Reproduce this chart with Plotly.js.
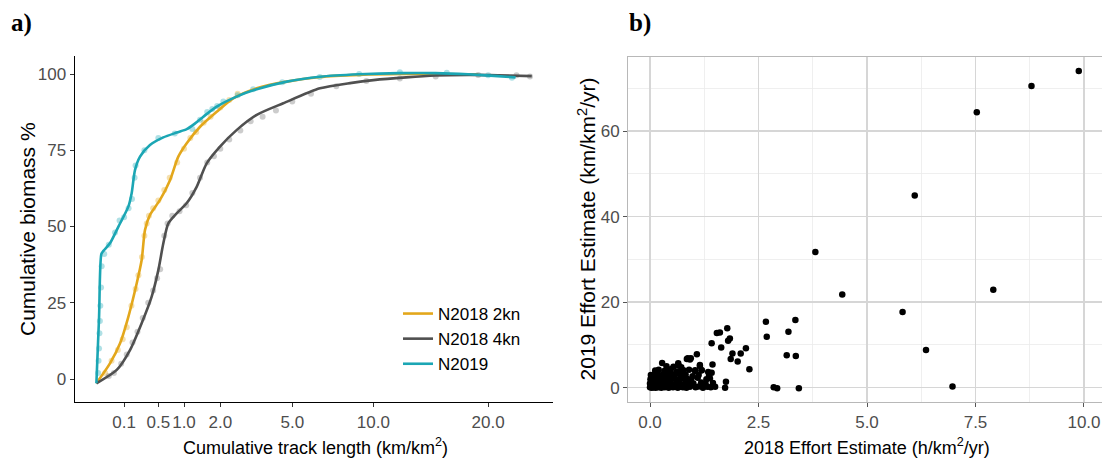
<!DOCTYPE html>
<html>
<head>
<meta charset="utf-8">
<script src="https://cdn.plot.ly/plotly-3.0.1.min.js"></script>
<style>
  html, body { margin: 0; padding: 0; background: #fff; }
  #chart { width: 1102px; height: 466px; }
</style>
</head>
<body>
<div id="chart"></div>
<script>
// ---------- Panel a) cumulative biomass vs cumulative track length ----------
const seriesNames = ['N2018 2kn', 'N2018 4kn', 'N2019'];

const orangeLineX = [0, 0.024, 0.073, 0.133, 0.212, 0.267, 0.308, 0.374, 0.527, 0.706, 0.874, 1.063, 1.4, 1.886, 2.44, 3.35, 4.72, 6.51, 9.0, 12.0, 15.0, 19.0];
const orangeLineY = [-1.4, 5.1, 11.7, 20.4, 31.4, 39, 48.9, 53.8, 58.7, 65.2, 72.9, 77.3, 82.7, 87.6, 92, 95.3, 97.5, 99.0, 99.7, 100.0, 100.0, 99.8];

const grayLineX = [0, 0.054, 0.147, 0.267, 0.398, 0.5, 0.584, 0.674, 0.84, 1.06, 1.31, 1.585, 1.99, 2.56, 3.35, 4.55, 6.51, 8.5, 10.0, 12.5, 15.0, 18.0, 21.0, 24.7];
const grayLineY = [-1.4, 3.0, 9.5, 18.3, 27, 35.7, 44.5, 51, 54.3, 57.6, 63, 70.7, 76.2, 81.6, 86.6, 90.4, 95.3, 97.1, 98.0, 98.9, 99.5, 99.7, 99.6, 99.3];

const tealLineX = [0, 0.0009, 0.00325, 0.0064, 0.024, 0.0625, 0.133, 0.162, 0.194, 0.248, 0.374, 0.583, 0.84, 1.063, 1.27, 1.49, 1.886, 2.56, 3.35, 4.72, 6.51, 9.0, 12.0, 15.0, 18.0, 21.0, 22.9];
const tealLineY = [-1.4, 20, 41, 42, 44.5, 49.9, 56.5, 60.9, 68.5, 72.9, 76.7, 79.2, 80.8, 81.9, 83.8, 86, 89.3, 92.6, 95, 97.5, 99.1, 99.9, 100.3, 100.3, 99.9, 99.3, 98.9];

const orangePtsX = [0.01, 0.03, 0.06, 0.09, 0.12, 0.16, 0.2, 0.23, 0.27, 0.3, 0.33, 0.36, 0.42, 0.5, 0.6, 0.7, 0.85, 1.0, 1.15, 1.3, 1.5, 1.7, 2.0, 2.3, 2.6];
const orangePtsY = [2, 6, 9.5, 13, 17, 24, 29.5, 34, 40, 47, 51, 53.5, 56, 58.5, 62, 66, 71, 75.5, 79, 81, 84, 86, 89, 91.5, 93.5];

const grayPtsX = [0.02, 0.04, 0.08, 0.12, 0.17, 0.22, 0.28, 0.35, 0.42, 0.48, 0.53, 0.6, 0.66, 0.75, 0.9, 1.05, 1.2, 1.4, 1.6, 1.8, 2.0, 2.3, 2.7, 3.1, 3.6, 4.2, 5.0, 6.0, 7.5, 9.5, 12.0, 15.0, 19.0, 23.0, 24.5];
const grayPtsY = [1, 2, 5, 8, 12, 15.5, 20, 25, 29, 33, 36, 47, 51, 53.5, 55, 57, 61, 66, 71, 73, 75.5, 78.5, 81.5, 84.5, 86, 88, 91, 93.5, 96, 97.7, 98.5, 99.2, 99.7, 99.6, 99.2];

const tealPtsX = [0.0004, 0.0006, 0.0009, 0.0012, 0.0016, 0.002, 0.0028, 0.0036, 0.008, 0.02, 0.045, 0.07, 0.1, 0.135, 0.165, 0.19, 0.2, 0.3, 0.5, 0.8, 1.2, 1.4, 1.6, 1.75, 1.9, 2.1, 2.6, 3.2, 4.5, 6.5, 9.0, 12.0, 16.0, 20.0, 22.5];
const tealPtsY = [2, 6, 10, 15, 19, 24, 30, 37, 41, 44, 48, 52, 53, 56, 59, 66, 70, 75, 79, 80.5, 82, 85, 87.5, 88.5, 89.5, 91, 93, 95, 97.3, 99, 100, 100.6, 100.4, 99.6, 98.8];

const trackTicks = [0.1, 0.5, 1.0, 2.0, 5.0, 10.0, 20.0];
const trackTickText = ['0.1', '0.5', '1.0', '2.0', '5.0', '10.0', '20.0'];
const biomassTicks = [0, 25, 50, 75, 100];

// ---------- Panel b) effort estimates ----------
const effort2018 = [
  3.81, 4.43, 5.82, 6.10, 6.36, 6.97, 7.53, 7.91, 8.79, 9.88,
  2.67, 2.69, 3.35, 3.19, 3.15, 3.36, 2.85, 2.93, 3.43,
  2.29, 2.21, 2.09, 1.90, 2.02, 1.86, 1.78, 1.54, 1.61, 1.84, 1.80, 1.42, 1.64,
  1.75, 1.73, 1.08, 1.44, 1.34, 1.42, 1.15, 1.19, 1.04, 0.85, 0.92, 0.65, 0.28, 0.54, 0.77, 0.87, 0.94, 0.12,
  0.00, 0.02, 0.04, 0.06, 0.08, 0.10, 0.13, 0.16, 0.19, 0.22, 0.26, 0.30, 0.34, 0.38, 0.43, 0.48, 0.53, 0.58, 0.64, 0.70, 0.76, 0.84, 0.92, 1.05, 1.12, 1.22, 1.32, 1.40, 1.50,
  0.00, 0.03, 0.06, 0.09, 0.12, 0.15, 0.20, 0.25, 0.31, 0.36, 0.41, 0.47, 0.55, 0.62, 0.68, 0.80, 0.90, 1.00, 1.18, 1.28, 1.45,
  0.01, 0.05, 0.10, 0.14, 0.18, 0.24, 0.28, 0.35, 0.40, 0.46, 0.52, 0.60, 0.66, 0.75, 0.85, 0.95, 1.10, 1.30, 1.38,
  0.02, 0.08, 0.16, 0.22, 0.30, 0.37, 0.44, 0.50, 0.58, 0.70, 0.82, 0.98, 1.12, 1.36,
  0.12, 0.20, 0.33, 0.42, 0.48, 0.62, 0.75, 0.90, 1.04, 1.19,
  0.38, 0.66, 0.72, 1.15
];
const effort2019 = [
  31.7, 21.8, 17.7, 44.9, 8.8, 0.3, 64.4, 22.9, 70.5, 74.0,
  15.4, 11.9, 15.8, 13.1, 7.6, 7.4, 0.1, -0.1, -0.1,
  4.3, 9.2, 8.0, 8.0, 6.1, 6.7, 13.9, 12.8, 12.9, 11.5, 11.0, 10.4, 9.4,
  1.4, 0.0, 7.8, 5.4, 3.7, 3.5, 5.3, 4.1, 4.1, 6.7, 6.6, 5.7, 5.8, 4.9, 4.1, 6.9, 6.9, 3.4,
  0.1, 0.2, 0.0, 0.3, 0.1, 0.2, 0.0, 0.3, 0.1, 0.2, 0.0, 0.2, 0.1, 0.3, 0.0, 0.2, 0.1, 0.3, 0.0, 0.2, 0.1, 0.0, 0.2, 0.1, 0.3, 0.0, 0.2, 0.1, 0.2,
  1.0, 1.2, 0.9, 1.1, 1.3, 0.8, 1.0, 1.2, 0.9, 1.1, 1.3, 1.0, 0.8, 1.2, 1.1, 0.9, 1.3, 1.0, 1.2, 0.9, 1.1,
  2.0, 2.2, 1.9, 2.1, 2.3, 1.8, 2.0, 2.2, 1.9, 2.1, 2.3, 2.0, 1.8, 2.2, 2.1, 1.9, 2.3, 2.0, 2.2,
  3.0, 2.8, 3.2, 2.9, 3.1, 3.3, 2.8, 3.0, 3.2, 2.9, 3.1, 2.7, 3.0, 2.8,
  4.0, 4.2, 3.9, 4.1, 4.3, 3.8, 4.0, 4.2, 3.9, 4.1,
  5.0, 5.2, 4.8, 5.1
];
const effortXTicks = [0, 2.5, 5, 7.5, 10];
const effortYTicks = [0, 20, 40, 60];

// ---------- helpers ----------
const sq = arr => arr.map(v => Math.sqrt(v));
const W = 1102, H = 466;
const px = x => x / W;           // paper x from pixel
const py = y => (H - y) / H;     // paper y from pixel (top origin)

const ORANGE = '#E3A71B', GRAY = '#505050', TEAL = '#1BA6B4';
const FONT = '"Liberation Sans", Arial, Helvetica, sans-serif';
const SERIF = '"Liberation Serif", "DejaVu Serif", serif';

const ptsTrace = (x, y, color) => ({
  x: sq(x), y: y, type: 'scatter', mode: 'markers', xaxis: 'x', yaxis: 'y',
  marker: { size: 6, color: color }, showlegend: false, hoverinfo: 'skip'
});
const lineTrace = (x, y, color, name) => ({
  x: sq(x), y: y, type: 'scatter', mode: 'lines', xaxis: 'x', yaxis: 'y', name: name,
  line: { color: color, width: 2.6, shape: 'spline', smoothing: 0.7 }
});

const traces = [
  ptsTrace(orangePtsX, orangePtsY, 'rgba(227,167,27,0.35)'),
  ptsTrace(grayPtsX, grayPtsY, 'rgba(110,110,110,0.35)'),
  ptsTrace(tealPtsX, tealPtsY, 'rgba(27,166,180,0.35)'),
  lineTrace(orangeLineX, orangeLineY, ORANGE, seriesNames[0]),
  lineTrace(grayLineX, grayLineY, GRAY, seriesNames[1]),
  lineTrace(tealLineX, tealLineY, TEAL, seriesNames[2]),
  {
    x: effort2018, y: effort2019, type: 'scatter', mode: 'markers', xaxis: 'x2', yaxis: 'y2',
    marker: { size: 6.5, color: '#000' }, showlegend: false
  }
];

const layout = {
  width: W, height: H,
  margin: { l: 0, r: 0, t: 0, b: 0 },
  paper_bgcolor: '#fff', plot_bgcolor: '#fff',
  font: { family: FONT, size: 17, color: '#000' },
  showlegend: true,
  legend: {
    x: px(398), y: py(296), xanchor: 'left', yanchor: 'top',
    bgcolor: 'rgba(0,0,0,0)', font: { size: 17, color: '#000', family: FONT },
    tracegroupgap: 0
  },
  xaxis: {
    domain: [px(75), px(553)], range: [-0.2443, 5.2123], anchor: 'y',
    tickmode: 'array', tickvals: sq(trackTicks), ticktext: trackTickText,
    showgrid: false, zeroline: false, showline: true, linecolor: '#000', linewidth: 1.4,
    ticks: 'outside', ticklen: 4, tickcolor: '#333', tickwidth: 1,
    tickfont: { size: 17, color: '#4d4d4d', family: FONT }
  },
  yaxis: {
    domain: [py(402), py(56)], range: [-7.54, 105.9], anchor: 'x',
    tickmode: 'array', tickvals: biomassTicks,
    showgrid: false, zeroline: false, showline: true, linecolor: '#000', linewidth: 1.4,
    ticks: 'outside', ticklen: 4, tickcolor: '#333', tickwidth: 1,
    tickfont: { size: 17, color: '#4d4d4d', family: FONT }
  },
  xaxis2: {
    domain: [px(628), 1], range: [-0.507, 10.415], anchor: 'y2',
    tickmode: 'array', tickvals: effortXTicks, tickformat: '.1f',
    showgrid: true, gridcolor: '#d6d6d6', gridwidth: 1.3, zeroline: false,
    minor: { dtick: 1.25, tick0: 0, showgrid: true, gridcolor: '#ebebeb', gridwidth: 0.8 },
    showline: true, mirror: true, linecolor: '#b8b8b8', linewidth: 1,
    ticks: 'outside', ticklen: 4, tickcolor: '#555', tickwidth: 1,
    tickfont: { size: 17, color: '#4d4d4d', family: FONT }
  },
  yaxis2: {
    domain: [py(402.3), py(56.7)], range: [-3.41, 77.37], anchor: 'x2',
    tickmode: 'array', tickvals: effortYTicks,
    showgrid: true, gridcolor: '#d6d6d6', gridwidth: 1.3, zeroline: false,
    minor: { dtick: 10, tick0: 0, showgrid: true, gridcolor: '#ebebeb', gridwidth: 0.8 },
    showline: true, mirror: true, linecolor: '#b8b8b8', linewidth: 1,
    ticks: 'outside', ticklen: 4, tickcolor: '#555', tickwidth: 1,
    tickfont: { size: 17, color: '#4d4d4d', family: FONT }
  },
  annotations: [
    { text: '<b>a)</b>', xref: 'paper', yref: 'paper', x: px(9), y: py(7), xanchor: 'left', yanchor: 'top',
      showarrow: false, font: { family: SERIF, size: 25, color: '#000' } },
    { text: '<b>b)</b>', xref: 'paper', yref: 'paper', x: px(627), y: py(7), xanchor: 'left', yanchor: 'top',
      showarrow: false, font: { family: SERIF, size: 25, color: '#000' } },
    { text: 'Cumulative biomass %', xref: 'paper', yref: 'paper', x: px(27), y: py(229), textangle: -90,
      xanchor: 'center', yanchor: 'middle', showarrow: false, font: { size: 21, color: '#000', family: FONT } },
    { text: 'Cumulative track length (km/km<sup>2</sup>)', xref: 'paper', yref: 'paper', x: px(315), y: py(446),
      xanchor: 'center', yanchor: 'middle', showarrow: false, font: { size: 18, color: '#000', family: FONT } },
    { text: '2019 Effort Estimate (km/km<sup>2</sup>/yr)', xref: 'paper', yref: 'paper', x: px(586), y: py(229.5), textangle: -90,
      xanchor: 'center', yanchor: 'middle', showarrow: false, font: { size: 21, color: '#000', family: FONT } },
    { text: '2018 Effort Estimate (h/km<sup>2</sup>/yr)', xref: 'paper', yref: 'paper', x: px(867), y: py(446),
      xanchor: 'center', yanchor: 'middle', showarrow: false, font: { size: 18, color: '#000', family: FONT } }
  ]
};

Plotly.newPlot('chart', traces, layout, { staticPlot: true, displayModeBar: false });
</script>
</body>
</html>
